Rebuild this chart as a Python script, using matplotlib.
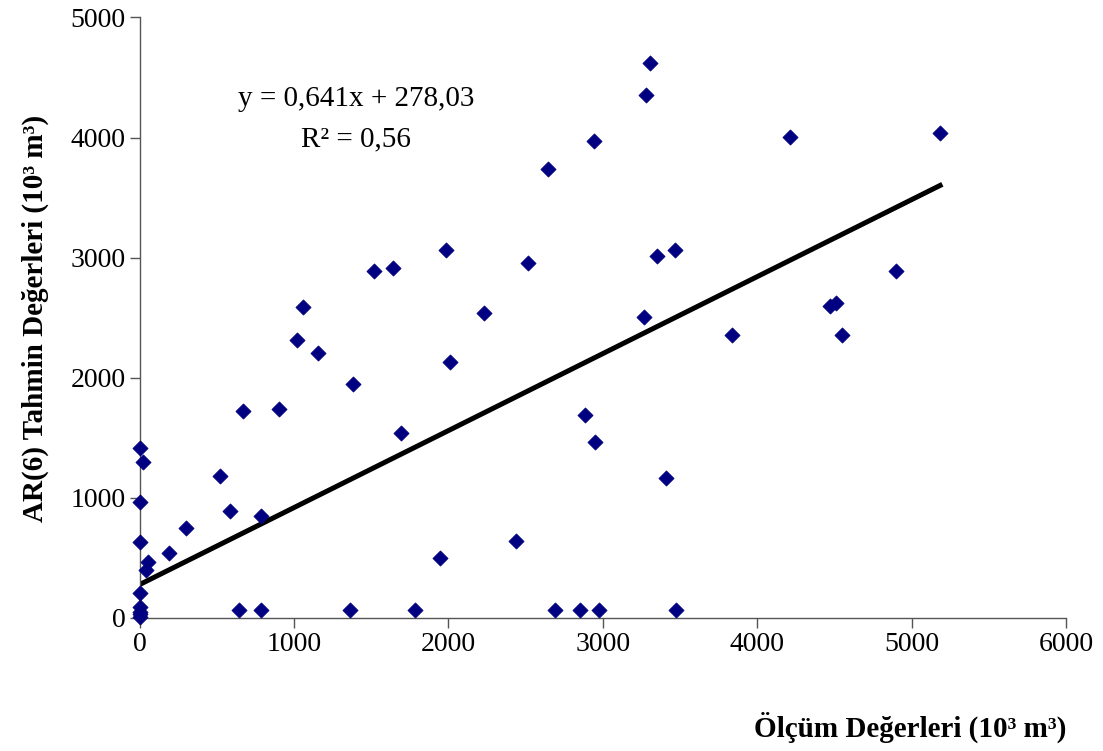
import matplotlib
matplotlib.use("Agg")
import matplotlib.pyplot as plt
import numpy as np

plt.rcParams["font.family"] = ["Liberation Serif", "DejaVu Serif"]

# observed vs. AR(6) predicted volumes (10^3 m^3)
olcum = [
    0, 22, 0, 0, 0, 0, 0, 0, 5, 58, 43, 189, 303, 524, 589, 784, 643, 784,
    668, 904, 1018, 1061, 1154, 1383, 1519, 1640, 1694, 1363, 1782, 1946,
    1987, 2009, 2229, 2439, 2515, 2644, 2689, 2851, 2886, 2941, 2949, 2976,
    3268, 3277, 3307, 3350, 3411, 3469, 3473, 3836, 4212, 4471, 4514, 4548,
    4898, 5185,
]
tahmin = [
    1414, 1303, 969, 636, 206, 94, 53, 11, 30, 469, 400, 539, 747, 1183, 894,
    853, 67, 67, 1725, 1742, 2317, 2586, 2203, 1947, 2889, 2917, 1542, 67, 67,
    503, 3064, 2133, 2542, 639, 2958, 3736, 67, 67, 1692, 3969, 1464, 67,
    2508, 4358, 4617, 3011, 1164, 3067, 67, 2358, 4008, 2594, 2622, 2353,
    2886, 4036,
]

# linear trend reported on the chart
egim = 0.641
kesisim = 278.03
r2 = 0.56

fig = plt.figure(figsize=(11.03, 7.51), dpi=100)
ax = fig.add_axes([0.1265, 0.1771, 0.8399, 0.7996])

ax.scatter(olcum, tahmin, marker="D", s=60, color="#000080",
           edgecolors="#000080", linewidths=0.5, zorder=3, clip_on=False)

xs = np.array([min(olcum), max(olcum)])
ax.plot(xs, egim * xs + kesisim, color="black", lw=3.6, zorder=2)

ax.set_xlim(0, 6000)
ax.set_ylim(0, 5000)
ax.set_xticks(range(0, 6001, 1000))
ax.set_yticks(range(0, 5001, 1000))

for side in ("top", "right"):
    ax.spines[side].set_visible(False)
for side in ("left", "bottom"):
    ax.spines[side].set_color("#555555")
    ax.spines[side].set_linewidth(1.0)
ax.tick_params(direction="out", length=7, width=1, color="#555555",
               labelsize=20, pad=3)

ax.text(1402, 4318, f"y = {str(egim).replace('.', ',')}x + "
        f"{str(kesisim).replace('.', ',')}",
        ha="center", va="center", fontsize=21)
ax.text(1402, 3984, f"R² = {str(r2).replace('.', ',')}",
        ha="center", va="center", fontsize=21)

fig.text(910 / 1103, 1 - 727 / 751, "Ölçüm Değerleri (10³ m³)",
         ha="center", va="center", fontsize=21, fontweight="bold")
fig.text(35 / 1103, 1 - 318 / 751, "AR(6) Tahmin Değerleri (10³ m³)",
         ha="center", va="center", fontsize=21, fontweight="bold",
         rotation=90)

fig.savefig("out.png", dpi=100)
